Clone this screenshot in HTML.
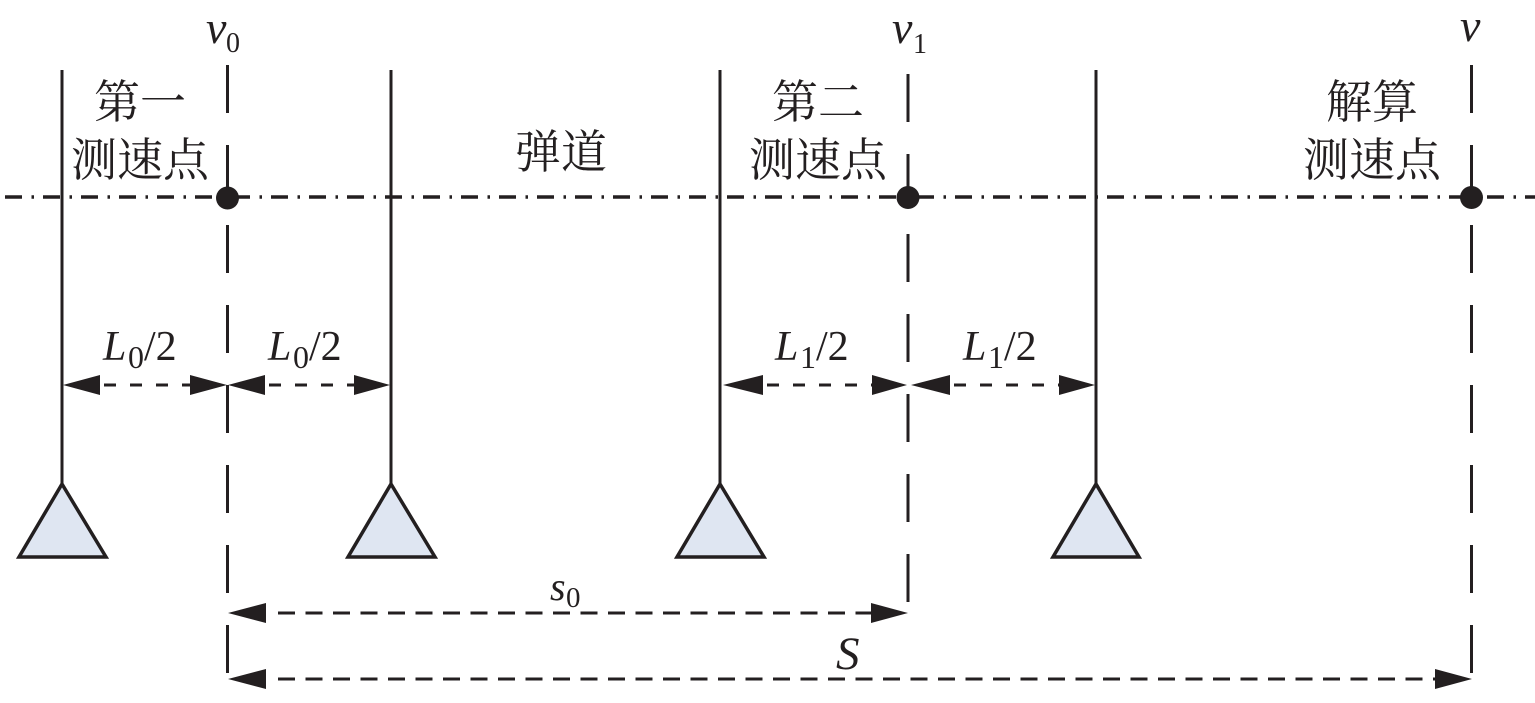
<!DOCTYPE html>
<html>
<head>
<meta charset="utf-8">
<style>
  html,body{margin:0;padding:0;background:#fff;}
  svg{display:block;}
  .it{font-family:"Liberation Serif",serif;font-style:italic;fill:#231f20;}
  .rm{font-family:"Liberation Serif",serif;fill:#231f20;}
  .cn{font-family:"Noto Serif CJK SC","Liberation Serif","Noto Sans CJK SC",serif;fill:#231f20;font-size:46px;}
</style>
</head>
<body>
<svg width="1535" height="703" viewBox="0 0 1535 703" xmlns="http://www.w3.org/2000/svg">
  <!-- dash-dot axis -->
  <line x1="5" y1="197" x2="1535" y2="197" stroke="#231f20" stroke-width="3.5" stroke-dasharray="17 9.5 2.5 9" />

  <!-- solid sensor lines -->
  <g stroke="#231f20" stroke-width="3">
    <line x1="62" y1="70" x2="62" y2="485"/>
    <line x1="391" y1="70" x2="391" y2="485"/>
    <line x1="720" y1="70" x2="720" y2="485"/>
    <line x1="1096" y1="70" x2="1096" y2="485"/>
  </g>

  <!-- dashed vertical lines -->
  <g stroke="#231f20" stroke-width="3" stroke-dasharray="48 32">
    <line x1="227.5" y1="65" x2="227.5" y2="673"/>
    <line x1="908" y1="74" x2="908" y2="602"/>
    <line x1="1471.5" y1="65" x2="1471.5" y2="673"/>
  </g>

  <!-- dots -->
  <g fill="#231f20">
    <circle cx="227.5" cy="198" r="11.5"/>
    <circle cx="908" cy="197.5" r="11.5"/>
    <circle cx="1471.5" cy="197.5" r="11.5"/>
  </g>

  <!-- triangles -->
  <g fill="#dfe6f2" stroke="#231f20" stroke-width="3.5" stroke-linejoin="miter">
    <polygon points="62,484 19,557 106,557"/>
    <polygon points="391,484 348,557 435,557"/>
    <polygon points="720,484 677,557 764,557"/>
    <polygon points="1096,484 1053,557 1139,557"/>
  </g>

  <!-- small dimension arrows -->
  <g stroke="#231f20" stroke-width="3" stroke-dasharray="12 14">
    <line x1="104" y1="385" x2="190" y2="385"/>
    <line x1="269" y1="385" x2="354" y2="385"/>
    <line x1="767" y1="385" x2="872" y2="385"/>
    <line x1="954" y1="385" x2="1059" y2="385"/>
  </g>
  <g fill="#231f20">
    <polygon points="63,385 100,375 100,395"/>
    <polygon points="227,385 190,375 190,395"/>
    <polygon points="228,385 265,375 265,395"/>
    <polygon points="390,385 354,375 354,395"/>
    <polygon points="723,385 763,375 763,395"/>
    <polygon points="907,385 872,375 872,395"/>
    <polygon points="911,385 950,375 950,395"/>
    <polygon points="1095,385 1059,375 1059,395"/>
  </g>

  <!-- long arrows -->
  <g stroke="#231f20" stroke-width="3" stroke-dasharray="17 10.5">
    <line x1="278" y1="613" x2="871" y2="613"/>
    <line x1="278" y1="679" x2="1435" y2="679"/>
  </g>
  <g fill="#231f20">
    <polygon points="228,613 266,603 266,623"/>
    <polygon points="908,613 871,603 871,623"/>
    <polygon points="228,679 266,669 266,689"/>
    <polygon points="1472,679 1435,669 1435,689"/>
  </g>

  <!-- velocity labels -->
  <text class="it" x="206" y="43" font-size="46">v</text>
  <text class="rm" x="226" y="52" font-size="28">0</text>
  <text class="it" x="892" y="43" font-size="46">v</text>
  <text class="rm" x="913" y="53" font-size="28">1</text>
  <text class="it" x="1460" y="41" font-size="46">v</text>

  <!-- L labels -->
  <g>
    <text class="it" x="103" y="360" font-size="42">L</text>
    <text class="rm" x="128" y="368" font-size="32">0</text>
    <text class="rm" x="144" y="360" font-size="42">/2</text>

    <text class="it" x="268" y="360" font-size="42">L</text>
    <text class="rm" x="293" y="368" font-size="32">0</text>
    <text class="rm" x="309" y="360" font-size="42">/2</text>

    <text class="it" x="775" y="360" font-size="42">L</text>
    <text class="rm" x="800" y="368" font-size="32">1</text>
    <text class="rm" x="816" y="360" font-size="42">/2</text>

    <text class="it" x="963" y="360" font-size="42">L</text>
    <text class="rm" x="988" y="368" font-size="32">1</text>
    <text class="rm" x="1004" y="360" font-size="42">/2</text>
  </g>

  <!-- s0 and S -->
  <text class="it" x="550" y="600" font-size="40">s</text>
  <text class="rm" x="566" y="607" font-size="29">0</text>
  <text class="it" x="836" y="669" font-size="47">S</text>

  <!-- Chinese labels -->
  <text class="cn" x="140" y="118" text-anchor="middle">第一</text>
  <text class="cn" x="140" y="176" text-anchor="middle">测速点</text>
  <text class="cn" x="818" y="118" text-anchor="middle">第二</text>
  <text class="cn" x="818" y="176" text-anchor="middle">测速点</text>
  <text class="cn" x="1372" y="118" text-anchor="middle">解算</text>
  <text class="cn" x="1372" y="176" text-anchor="middle">测速点</text>
  <text class="cn" x="561" y="168" text-anchor="middle">弹道</text>
</svg>
</body>
</html>
